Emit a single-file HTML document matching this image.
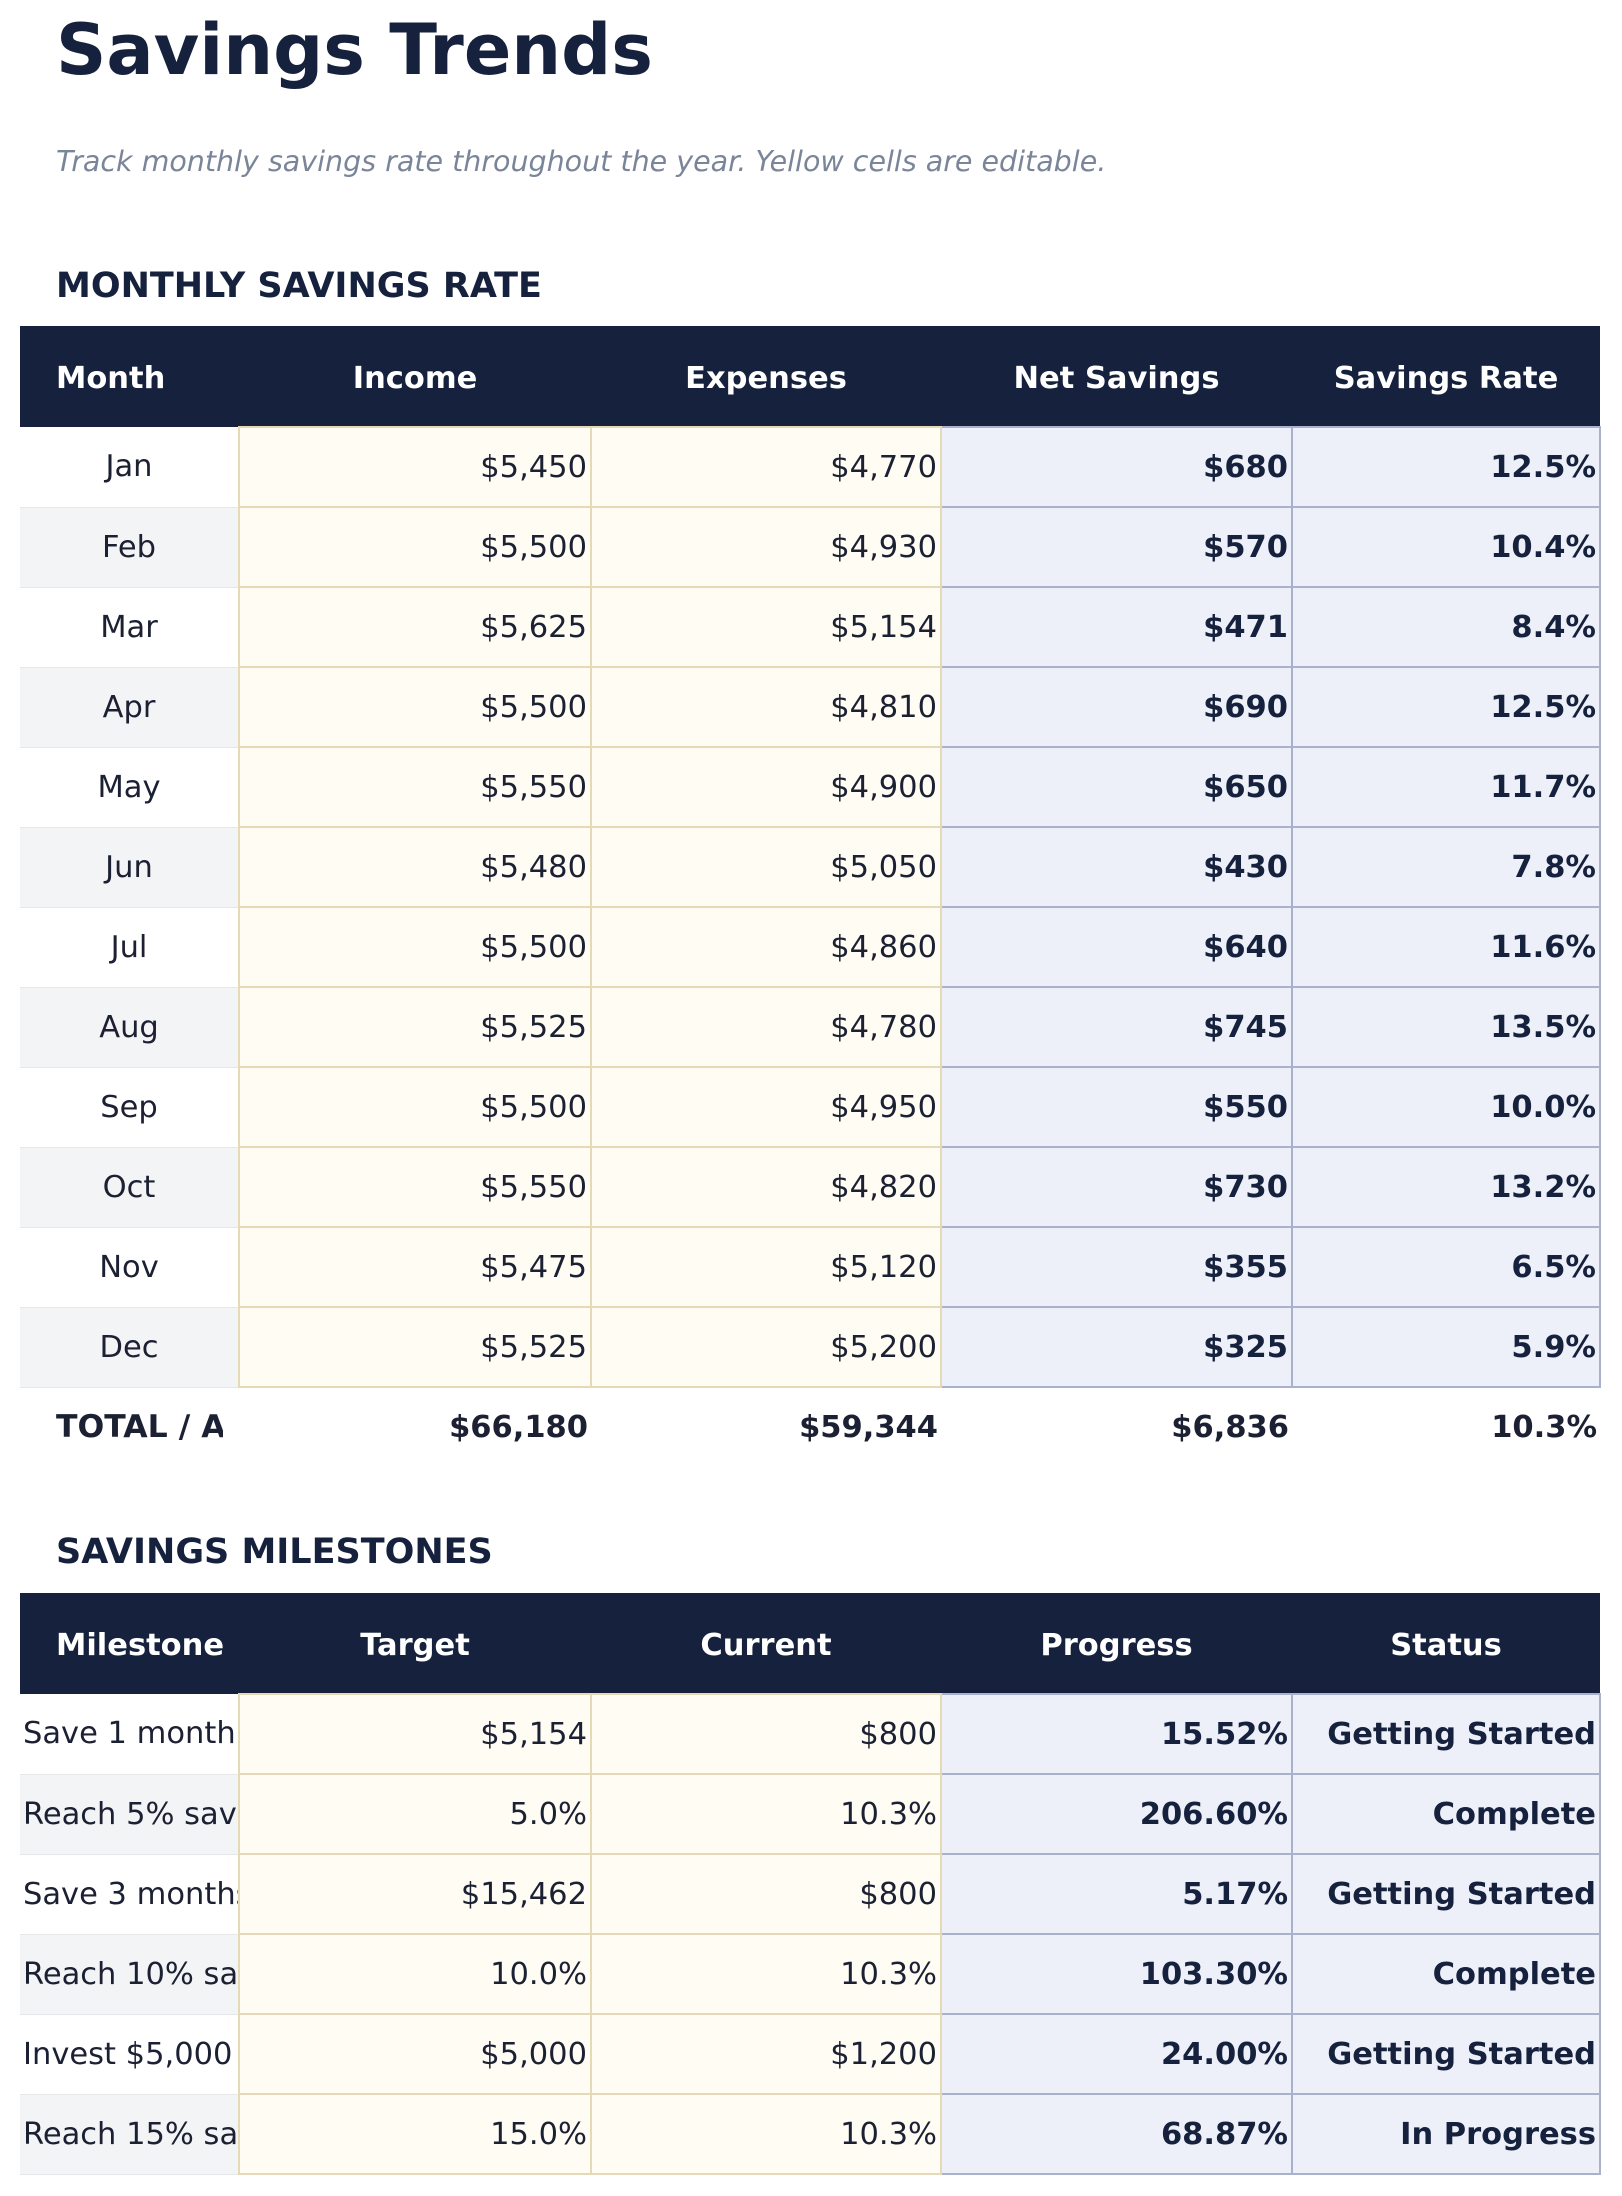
<!DOCTYPE html>
<html><head><meta charset="utf-8"><style>
body{margin:0;width:1622px;height:2196px;background:#fff;font-family:"DejaVu Sans","Liberation Sans",sans-serif;position:relative;overflow:hidden;color:#1c2033}
.t{position:absolute;left:56px;margin:0}
h1{position:absolute;left:56px;top:5px;margin:0;font-size:70px;font-weight:bold;color:#15213d;line-height:90px}
.sub{top:142px;font-size:28.5px;font-style:italic;color:#7a8599;line-height:40px}
.h2{font-size:35px;font-weight:bold;color:#15213d;line-height:40px}
table{position:absolute;left:20px;border-collapse:collapse;table-layout:fixed;width:1580px}
th{background:#15213d;color:#fff;font-weight:bold;font-size:30.5px;height:101px;padding:4px 0 0 0;text-align:center;box-sizing:border-box}
th.l{text-align:left;padding-left:36px}
td{height:78px;padding:0 3px;font-size:30.5px;white-space:nowrap;overflow:hidden;text-align:right}
td.m{text-align:center;border-bottom:1px solid #e5e7eb}
td.ml{text-align:left;padding-left:3px;border-bottom:1px solid #e5e7eb}
tr.g td.m,tr.g td.ml{background:#f3f4f6}
td.y{background:#fefcf3;border:2px solid #e5d9b6}
td.b{background:#edf0f8;border:2px solid #a9b1cc;font-weight:bold;color:#15213d}
tr.tot td{font-weight:bold;color:#1c2033;border:none;height:78px}
tr.tot td.first{text-align:left;padding-left:36px}
.clip{width:167px;overflow:hidden;white-space:nowrap;font-size:31.5px}
</style></head><body>
<h1>Savings Trends</h1>
<p class="t sub">Track monthly savings rate throughout the year. Yellow cells are editable.</p>
<p class="t h2" style="top:266px">MONTHLY SAVINGS RATE</p>
<table style="top:326px">
<colgroup><col style="width:219px"><col style="width:352px"><col style="width:350px"><col style="width:351px"><col style="width:308px"></colgroup>
<tr><th class="l">Month</th><th>Income</th><th>Expenses</th><th>Net Savings</th><th>Savings Rate</th></tr>
<tr><td class="m">Jan</td><td class="y">$5,450</td><td class="y">$4,770</td><td class="b">$680</td><td class="b">12.5%</td></tr>
<tr class="g"><td class="m">Feb</td><td class="y">$5,500</td><td class="y">$4,930</td><td class="b">$570</td><td class="b">10.4%</td></tr>
<tr><td class="m">Mar</td><td class="y">$5,625</td><td class="y">$5,154</td><td class="b">$471</td><td class="b">8.4%</td></tr>
<tr class="g"><td class="m">Apr</td><td class="y">$5,500</td><td class="y">$4,810</td><td class="b">$690</td><td class="b">12.5%</td></tr>
<tr><td class="m">May</td><td class="y">$5,550</td><td class="y">$4,900</td><td class="b">$650</td><td class="b">11.7%</td></tr>
<tr class="g"><td class="m">Jun</td><td class="y">$5,480</td><td class="y">$5,050</td><td class="b">$430</td><td class="b">7.8%</td></tr>
<tr><td class="m">Jul</td><td class="y">$5,500</td><td class="y">$4,860</td><td class="b">$640</td><td class="b">11.6%</td></tr>
<tr class="g"><td class="m">Aug</td><td class="y">$5,525</td><td class="y">$4,780</td><td class="b">$745</td><td class="b">13.5%</td></tr>
<tr><td class="m">Sep</td><td class="y">$5,500</td><td class="y">$4,950</td><td class="b">$550</td><td class="b">10.0%</td></tr>
<tr class="g"><td class="m">Oct</td><td class="y">$5,550</td><td class="y">$4,820</td><td class="b">$730</td><td class="b">13.2%</td></tr>
<tr><td class="m">Nov</td><td class="y">$5,475</td><td class="y">$5,120</td><td class="b">$355</td><td class="b">6.5%</td></tr>
<tr class="g"><td class="m">Dec</td><td class="y">$5,525</td><td class="y">$5,200</td><td class="b">$325</td><td class="b">5.9%</td></tr>
<tr class="tot"><td class="first"><div class="clip">TOTAL / AVERAGE</div></td><td>$66,180</td><td>$59,344</td><td>$6,836</td><td>10.3%</td></tr>
</table>
<p class="t h2" style="top:1532px">SAVINGS MILESTONES</p>
<table style="top:1593px">
<colgroup><col style="width:219px"><col style="width:352px"><col style="width:350px"><col style="width:351px"><col style="width:308px"></colgroup>
<tr><th class="l">Milestone</th><th>Target</th><th>Current</th><th>Progress</th><th>Status</th></tr>
<tr><td class="ml">Save 1 month emergency fund</td><td class="y">$5,154</td><td class="y">$800</td><td class="b">15.52%</td><td class="b">Getting Started</td></tr>
<tr class="g"><td class="ml">Reach 5% savings rate</td><td class="y">5.0%</td><td class="y">10.3%</td><td class="b">206.60%</td><td class="b">Complete</td></tr>
<tr><td class="ml">Save 3 months emergency fund</td><td class="y">$15,462</td><td class="y">$800</td><td class="b">5.17%</td><td class="b">Getting Started</td></tr>
<tr class="g"><td class="ml">Reach 10% savings rate</td><td class="y">10.0%</td><td class="y">10.3%</td><td class="b">103.30%</td><td class="b">Complete</td></tr>
<tr><td class="ml">Invest $5,000</td><td class="y">$5,000</td><td class="y">$1,200</td><td class="b">24.00%</td><td class="b">Getting Started</td></tr>
<tr class="g"><td class="ml">Reach 15% savings rate</td><td class="y">15.0%</td><td class="y">10.3%</td><td class="b">68.87%</td><td class="b">In Progress</td></tr>
</table>
</body></html>
